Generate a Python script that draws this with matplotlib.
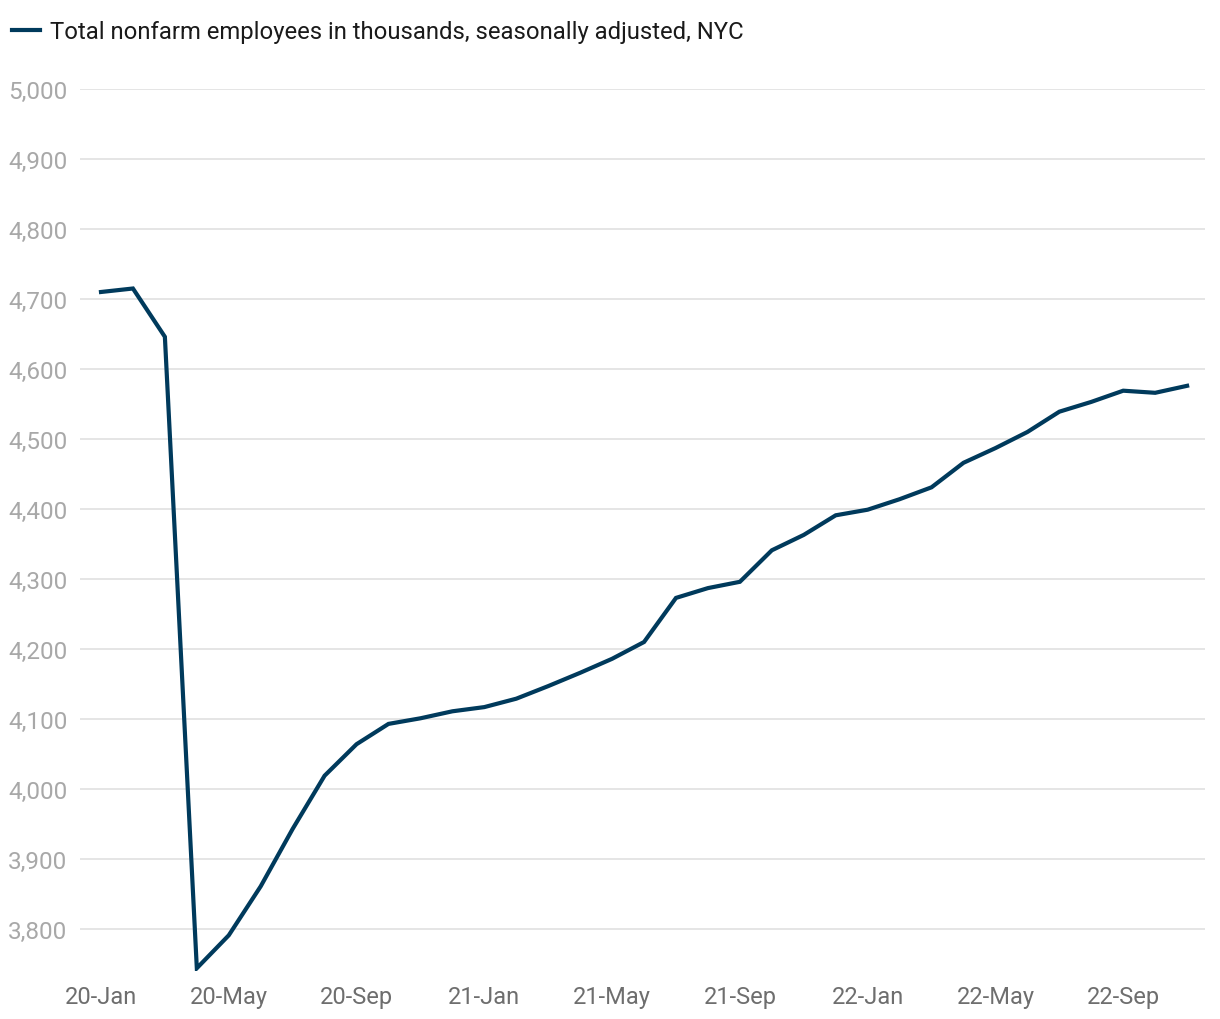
from matplotlib import pyplot as plt
from matplotlib.ticker import FuncFormatter, FixedLocator

plt.rcParams['font.family'] = ['Roboto', 'DejaVu Sans']

# 月度数据: 2020-01 到 2022-11
months = ['20-Jan', '20-Feb', '20-Mar', '20-Apr', '20-May', '20-Jun', '20-Jul', '20-Aug',
          '20-Sep', '20-Oct', '20-Nov', '20-Dec', '21-Jan', '21-Feb', '21-Mar', '21-Apr',
          '21-May', '21-Jun', '21-Jul', '21-Aug', '21-Sep', '21-Oct', '21-Nov', '21-Dec',
          '22-Jan', '22-Feb', '22-Mar', '22-Apr', '22-May', '22-Jun', '22-Jul', '22-Aug',
          '22-Sep', '22-Oct', '22-Nov']
employees = [4710, 4715, 4646, 3744, 3791, 3861, 3943, 4019,
             4064, 4093, 4101, 4111, 4117, 4129, 4147, 4166,
             4186, 4210, 4273, 4287, 4296, 4341, 4363, 4391,
             4399, 4414, 4431, 4466, 4487, 4510, 4539, 4553,
             4569, 4566, 4576]
series_name = 'Total nonfarm employees in thousands, seasonally adjusted, NYC'
y_ticks = [3800, 3900, 4000, 4100, 4200, 4300, 4400, 4500, 4600, 4700, 4800, 4900, 5000]

fig = plt.figure(figsize=(12.2, 10.2), dpi=100)
ax = fig.add_axes([80 / 1220, 1 - 972 / 1020, 1125 / 1220, 882 / 1020])

x = list(range(len(months)))
ax.plot(x, employees, color='#003a5c', linewidth=3, solid_joinstyle='miter', label=series_name)

ax.set_xlim(-0.657, 34.56)
ax.set_ylim(3740, 5000)

ax.yaxis.set_major_locator(FixedLocator(y_ticks))
ax.yaxis.set_major_formatter(FuncFormatter(lambda v, p: f'{int(v):,}'))
ax.set_xticks(x[::4])
ax.set_xticklabels(months[::4])

ax.grid(axis='y', color='#e3e3e3', linewidth=1.3)
ax.set_axisbelow(True)
for s in ax.spines.values():
    s.set_visible(False)
ax.tick_params(axis='y', length=0, pad=9, labelsize=17.5, labelcolor='#a8a8a8')
ax.tick_params(axis='x', length=0, pad=10, labelsize=17, labelcolor='#6e6e6e')

# 图例放在左上角
fig.legend(loc='upper left', bbox_to_anchor=(-0.0075, 1.0), frameon=False,
           fontsize=17.2, handlelength=1.15, handletextpad=0.42, borderaxespad=0.5,
           labelcolor='#1a1a1a')

plt.savefig('out.png', dpi=100)
